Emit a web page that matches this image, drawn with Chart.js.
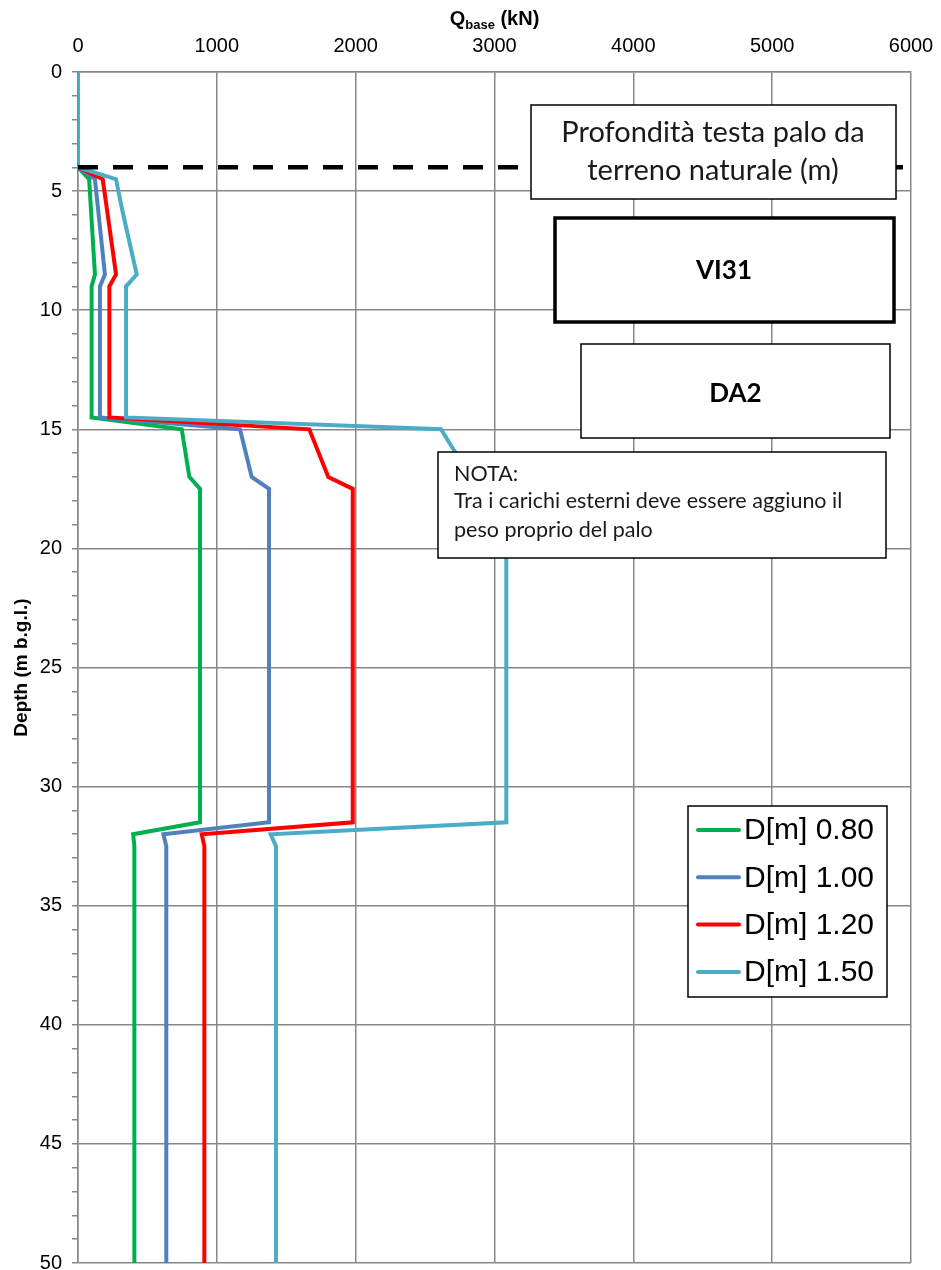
<!DOCTYPE html>
<html>
<head>
<meta charset="utf-8">
<script src="https://cdn.jsdelivr.net/npm/chart.js@4/dist/chart.umd.min.js"></script>
<style>
  html, body { margin: 0; padding: 0; background: #ffffff; }
  canvas { display: block; }
</style>
</head>
<body>
<canvas id="chart" width="941" height="1270"></canvas>
<script>
// Base resistance Q_base (kN) versus depth below ground level (m), per pile diameter.
const seriesLabels = ['D[m] 0.80', 'D[m] 1.00', 'D[m] 1.20', 'D[m] 1.50'];
const seriesColors = ['#00B050', '#4F81BD', '#FF0000', '#4BACC6'];

const depthD080 = [0, 4, 4.5, 8.5, 9, 14.5, 15, 17, 17.5, 31.5, 32, 32.5, 50];
const qbaseD080 = [0, 0, 80, 122, 98, 98, 747, 802, 879, 879, 397, 406, 406];

const depthD100 = [0, 4, 4.5, 8.5, 9, 14.5, 15, 17, 17.5, 31.5, 32, 32.5, 50];
const qbaseD100 = [0, 0, 122, 194, 158, 158, 1167, 1251, 1376, 1376, 615, 636, 636];

const depthD120 = [0, 4, 4.5, 8.5, 9, 14.5, 15, 17, 17.5, 31.5, 32, 32.5, 50];
const qbaseD120 = [0, 0, 178, 274, 226, 226, 1666, 1803, 1979, 1979, 891, 910, 910];

const depthD150 = [0, 4, 4.5, 5.7, 8.5, 9, 14.5, 15, 15.9, 17, 17.5, 31.5, 32, 32.5, 50];
const qbaseD150 = [0, 0, 274, 315, 423, 346, 346, 2615, 2710, 2850, 3085, 3085, 1388, 1426, 1426];

// Pile head depth from natural ground
const pileHeadDepth = [4, 4];
const pileHeadQ = [0, 6000];

const xTicks = [0, 1000, 2000, 3000, 4000, 5000, 6000];
const yMajorStep = 5;

const seriesDepths = [depthD080, depthD100, depthD120, depthD150];
const seriesQ = [qbaseD080, qbaseD100, qbaseD120, qbaseD150];

function toPoints(qs, ds) {
  return qs.map((q, i) => ({ x: q, y: ds[i] }));
}

const gridGray = '#878787';

const datasets = seriesLabels.map((label, i) => ({
  label: label,
  data: toPoints(seriesQ[i], seriesDepths[i]),
  showLine: true,
  borderColor: seriesColors[i],
  backgroundColor: seriesColors[i],
  borderWidth: 4,
  pointRadius: 0,
  fill: false,
  order: 4 - i
}));

datasets.push({
  label: 'pile head',
  data: toPoints(pileHeadQ, pileHeadDepth),
  showLine: true,
  borderColor: '#000000',
  borderWidth: 4.5,
  borderDash: [20, 15],
  borderCapStyle: 'butt',
  pointRadius: 0,
  fill: false,
  order: 0
});

// Text boxes and legend drawn over the plot area
const overlayPlugin = {
  id: 'overlay',
  afterDraw(chart) {
    const ctx = chart.ctx;
    ctx.save();

    function box(x0, y0, x1, y1, lw) {
      ctx.fillStyle = '#ffffff';
      ctx.fillRect(x0, y0, x1 - x0, y1 - y0);
      ctx.strokeStyle = '#000000';
      ctx.lineWidth = lw;
      ctx.strokeRect(x0, y0, x1 - x0, y1 - y0);
    }

    // Pile head label box
    box(531, 105, 896, 199, 1.5);
    ctx.fillStyle = '#1a1a1a';
    ctx.font = '29px Lato';
    ctx.textAlign = 'center';
    ctx.textBaseline = 'alphabetic';
    ctx.fillText('Profondità testa palo da', 713, 142);
    ctx.fillText('terreno naturale (m)', 713, 180);

    // Site box
    box(555, 218, 894, 322, 3.5);
    ctx.fillStyle = '#000000';
    ctx.font = 'bold 26px Lato';
    ctx.fillText('VI31', 724, 279);

    // Design approach box
    box(581, 344, 890, 438, 1.5);
    ctx.fillStyle = '#000000';
    ctx.font = 'bold 26px Lato';
    ctx.fillText('DA2', 735.5, 402);

    // Note box
    box(438, 452, 886, 558, 1.5);
    ctx.textAlign = 'left';
    ctx.fillStyle = '#1a1a1a';
    ctx.font = '21.5px Lato';
    ctx.fillText('NOTA:', 454, 481);
    ctx.fillText('Tra i carichi esterni deve essere aggiuno il', 454, 508);
    ctx.fillText('peso proprio del palo', 454, 537);

    // Legend
    box(688, 806, 887, 997, 1.5);
    ctx.font = '30px "Liberation Sans", Arial, sans-serif';
    ctx.textBaseline = 'middle';
    ctx.lineCap = 'round';
    chart.data.datasets.slice(0, seriesLabels.length).forEach((ds, i) => {
      const cy = 830 + i * 47.3;
      ctx.strokeStyle = ds.borderColor;
      ctx.lineWidth = 4;
      ctx.beginPath();
      ctx.moveTo(698, cy);
      ctx.lineTo(739, cy);
      ctx.stroke();
      ctx.fillStyle = '#000000';
      ctx.fillText(ds.label, 744, cy + 1);
    });

    // Axis titles
    const area = chart.chartArea;
    ctx.fillStyle = '#000000';
    ctx.textBaseline = 'alphabetic';
    const mainFont = 'bold 20px "Liberation Sans", Arial, sans-serif';
    const subFont = 'bold 13px "Liberation Sans", Arial, sans-serif';
    ctx.font = mainFont;
    const wQ = ctx.measureText('Q').width;
    const wTail = ctx.measureText(' (kN)').width;
    ctx.font = subFont;
    const wSub = ctx.measureText('base').width;
    const total = wQ + wSub + wTail;
    let tx = (area.left + area.right) / 2 - total / 2;
    ctx.textAlign = 'left';
    ctx.font = mainFont;
    ctx.fillText('Q', tx, 25);
    tx += wQ;
    ctx.font = subFont;
    ctx.fillText('base', tx, 29);
    tx += wSub;
    ctx.font = mainFont;
    ctx.fillText(' (kN)', tx, 25);

    ctx.translate(27, (area.top + area.bottom) / 2);
    ctx.rotate(-Math.PI / 2);
    ctx.textAlign = 'center';
    ctx.font = 'bold 19px "Liberation Sans", Arial, sans-serif';
    ctx.fillText('Depth (m b.g.l.)', 0, 0);

    ctx.restore();
  }
};

const tickFont = { family: '"Liberation Sans", Arial, sans-serif', size: 20 };

function noScalePadding(scale) {
  scale.paddingLeft = 0;
  scale.paddingRight = 0;
  scale.paddingTop = 0;
  scale.paddingBottom = 0;
}

new Chart(document.getElementById('chart').getContext('2d'), {
  type: 'scatter',
  data: { datasets: datasets },
  options: {
    responsive: false,
    animation: false,
    layout: { padding: { left: 0, top: 0, right: 30, bottom: 7 } },
    plugins: {
      legend: { display: false },
      tooltip: { enabled: false }
    },
    scales: {
      x: {
        type: 'linear',
        position: 'top',
        min: xTicks[0],
        max: xTicks[xTicks.length - 1],
        afterBuildTicks(scale) {
          scale.ticks = xTicks.map(v => ({ value: v }));
        },
        ticks: {
          font: tickFont,
          color: '#000000',
          padding: 14,
          maxRotation: 0,
          callback: v => String(v)
        },
        grid: { color: gridGray, lineWidth: 1.5, drawTicks: false },
        border: { color: gridGray, width: 1.5 },
        afterFit(scale) { scale.height = 72; noScalePadding(scale); }
      },
      y: {
        type: 'linear',
        reverse: true,
        min: 0,
        max: 50,
        ticks: {
          stepSize: 1,
          autoSkip: false,
          font: tickFont,
          color: '#000000',
          padding: 10,
          callback: v => (v % yMajorStep === 0 ? String(v) : '')
        },
        grid: {
          color: c => (c.tick && c.tick.value % yMajorStep === 0 ? gridGray : 'rgba(0,0,0,0)'),
          tickColor: gridGray,
          tickLength: 6,
          lineWidth: 1.5
        },
        border: { color: gridGray, width: 1.5 },
        afterFit(scale) { scale.width = 78; noScalePadding(scale); }
      }
    }
  },
  plugins: [overlayPlugin]
});
</script>
</body>
</html>
